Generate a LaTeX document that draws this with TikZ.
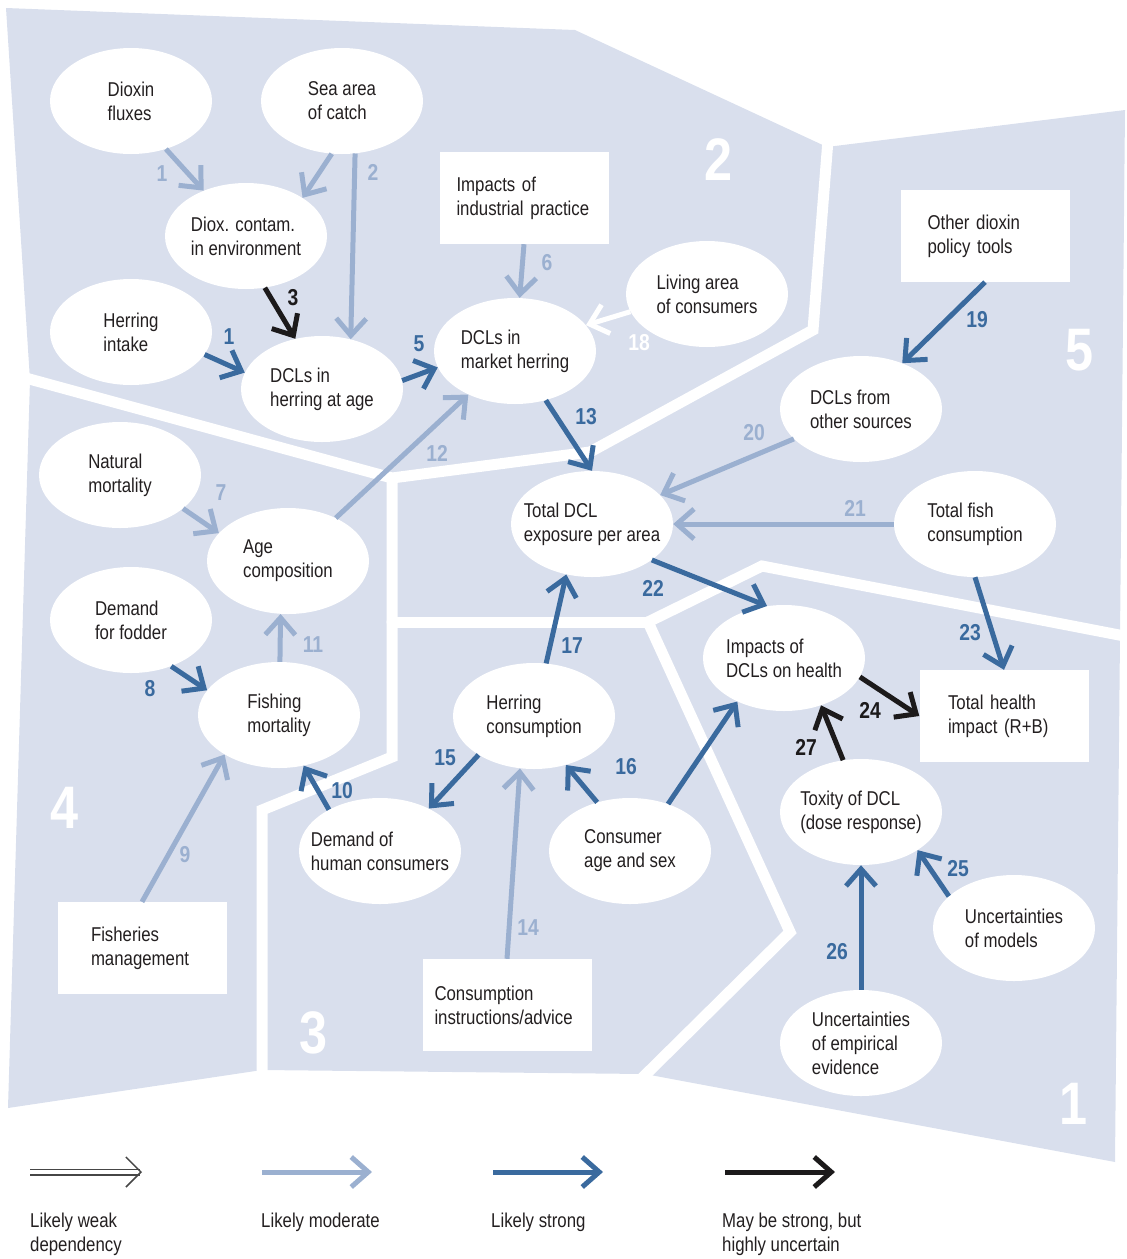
\documentclass[tikz,border=0pt]{standalone}
\usepackage{fontspec}
\setmainfont{Liberation Sans}[FakeStretch=0.84]
\usetikzlibrary{shapes.geometric,arrows.meta}

\definecolor{zone}{RGB}{217,223,237}
\definecolor{modc}{RGB}{155,176,208}
\definecolor{strc}{RGB}{58,106,158}
\definecolor{uncc}{RGB}{28,26,27}
\definecolor{txt}{RGB}{35,31,32}
\definecolor{weakedge}{RGB}{70,70,70}

\tikzset{
  txtfont/.style={font=\fontsize{20}{24}\selectfont, text=txt},
  ell/.style={ellipse, fill=white, minimum width=162pt, minimum height=106pt,
    inner xsep=-12pt, inner ysep=0pt, align=left, txtfont},
  box/.style={rectangle, fill=white, minimum width=169pt, minimum height=92pt,
    inner sep=0pt, align=left, txtfont},
  link/.style={line width=5pt, -{Straight Barb[length=17pt,width=30pt]}},
  mod/.style={link, draw=modc},
  str/.style={link, draw=strc},
  unc/.style={link, draw=uncc},
  weak/.style={link, draw=white},
  sep/.style={draw=white, line width=11pt, line cap=round},
  num/.style={font=\fontsize{23}{23}\selectfont\bfseries, inner sep=0pt},
  zonenum/.style={font=\fontsize{60}{60}\selectfont\bfseries, text=white, inner sep=0pt},
  legtext/.style={txtfont, align=left, inner sep=0pt, anchor=north west},
}

\begin{document}
\begin{tikzpicture}[x=1pt,y=-1pt]
\useasboundingbox (0,0) rectangle (1127,1259);

% shaded background of the five zones
\fill[zone] (6,8) -- (575,30) -- (827,147) -- (1125,110) -- (1115,1162)
  -- (645,1074) -- (262,1070) -- (8,1108) -- (30,380) -- cycle;

% white borders between the zones
\draw[sep] (0,371) -- (392,478) -- (590,452) -- (813,330) -- (828,140) -- (830,90);
\draw[sep] (392,478) -- (392,757) -- (262,810) -- (262,1095);
\draw[sep] (392,622) -- (648,622);
\draw[sep] (648,622) -- (762,566) -- (1145,640);
\draw[sep] (648,622) -- (790,932) -- (630,1090);

% zone numbers
\node[zonenum] (z1) at (1074,1104) {1};
\node[zonenum] (z2) at (719,160) {2};
\node[zonenum] (z3) at (314,1033) {3};
\node[zonenum] (z4) at (65,808) {4};
\node[zonenum] (z5) at (1080,350) {5};

% zone 2
\node[ell] (df) at (131,101) {Dioxin\\fluxes};
\node[ell] (sa) at (342,101) {Sea area\\of catch};
\node[ell] (dc) at (246,236) {Diox. contam.\\in environment};
\node[ell] (hi) at (131,332) {Herring\\intake};
\node[ell] (dh) at (322,389) {DCLs in\\herring at age};
\node[box, text width=135pt] (ip) at (524,198) {Impacts of\\industrial practice};
\node[ell] (la) at (707,294) {Living area\\of consumers};
\node[ell] (mh) at (515,351) {DCLs in\\market herring};

% zone 5
\node[box, text width=115pt] (od) at (985,236) {Other dioxin\\policy tools};
\node[ell] (os) at (861,409) {DCLs from\\other sources};
\node[ell] (tf) at (975,524) {Total fish\\consumption};
\node[ell] (td) at (592,524) {Total DCL\\exposure per area};

% zone 1
\node[ell] (ih) at (784,658) {Impacts of\\DCLs on health};
\node[box, text width=112pt] (th) at (1004,716) {Total health\\impact (R+B)};
\node[ell] (tx) at (861,812) {Toxity of DCL\\(dose response)};
\node[ell] (um) at (1014,928) {Uncertainties\\of models};
\node[ell] (ue) at (861,1043) {Uncertainties\\of empirical\\evidence};

% zone 3
\node[ell] (hc) at (534,716) {Herring\\consumption};
\node[ell] (dm) at (380,851) {Demand of\\human consumers};
\node[ell] (ca) at (630,851) {Consumer\\age and sex};
\node[box, text width=145pt] (ci) at (507,1005) {Consumption\\instructions/advice};

% zone 4
\node[ell] (nm) at (120,475) {Natural\\mortality};
\node[ell] (ac) at (288,561) {Age\\composition};
\node[ell] (dd) at (131,620) {Demand\\for fodder};
\node[ell] (fm) at (279,715) {Fishing\\mortality};
\node[box, text width=102pt] (fg) at (142,948) {Fisheries\\management};

% dependencies
\draw[mod] (df.-54) -- (dc.133);
\draw[mod] (sa.259) -- (dc.34);
\draw[mod] (sa.-76) -- (dh.60);
\draw[unc] (dc.-70) -- (dh.118);
\draw[str] (hi.-17) -- (dh.168);
\draw[str] (dh.6) -- (mh.192);
\draw[mod] (ip.south) -- (mh.85);
\draw[weak] (la.193) -- (mh.20);
\draw[mod] (ac.42) -- (mh.223);
\draw[str] (mh.-58) -- (td.90);
\draw[str] (od.south) -- (os.48);
\draw[mod] (os.204) -- (td.23);
\draw[mod] (tf.180) -- (td.0);
\draw[str] (td.-31) -- (ih.108);
\draw[str] (tf.-90) -- (th.north);
\draw[unc] (ih.-14) -- (th.west);
\draw[unc] (tx.109) -- (ih.-52);
\draw[str] (um.154) -- (tx.-34);
\draw[str] (ue.90) -- (tx.-90);
\draw[str] (hc.77) -- (td.243);
\draw[str] (hc.215) -- (dm.41);
\draw[str] (ca.124) -- (hc.-57);
\draw[str] (ca.51) -- (ih.223);
\draw[mod] (ci.north) -- (hc.255);
\draw[str] (dm.141) -- (fm.-64);
\draw[mod] (fg.north) -- (fm.216);
\draw[str] (dd.-49) -- (fm.161);
\draw[mod] (fm.89) -- (ac.262);
\draw[mod] (nm.-28) -- (ac.158);

% dependency numbers
\node[num, text=modc] (l1a) at (162,174) {1};
\node[num, text=modc] (l2) at (373,172) {2};
\node[num, text=uncc] (l3) at (293,298) {3};
\node[num, text=strc] (l1b) at (229,337) {1};
\node[num, text=strc] (l5) at (419,344) {5};
\node[num, text=modc] (l6) at (547,263) {6};
\node[num, text=white] (l18) at (639,343) {18};
\node[num, text=modc] (l12) at (437,453) {12};
\node[num, text=strc] (l13) at (586,417) {13};
\node[num, text=strc] (l19) at (977,320) {19};
\node[num, text=modc] (l20) at (754,433) {20};
\node[num, text=modc] (l21) at (855,508) {21};
\node[num, text=strc] (l22) at (653,588) {22};
\node[num, text=strc] (l23) at (970,633) {23};
\node[num, text=uncc] (l24) at (870,710) {24};
\node[num, text=uncc] (l27) at (806,747) {27};
\node[num, text=strc] (l25) at (958,869) {25};
\node[num, text=strc] (l26) at (837,952) {26};
\node[num, text=strc] (l17) at (572,646) {17};
\node[num, text=strc] (l15) at (445,758) {15};
\node[num, text=strc] (l16) at (626,767) {16};
\node[num, text=modc] (l14) at (528,928) {14};
\node[num, text=strc] (l10) at (342,791) {10};
\node[num, text=modc] (l9) at (185,855) {9};
\node[num, text=strc] (l8) at (150,689) {8};
\node[num, text=modc] (l11) at (313,645) {11};
\node[num, text=modc] (l7) at (221,493) {7};

% legend
\coordinate (wk1) at (30,1172);  \coordinate (wk2) at (142,1172);
\coordinate (md1) at (262,1172); \coordinate (md2) at (372,1172);
\coordinate (sg1) at (493,1172); \coordinate (sg2) at (603,1172);
\coordinate (un1) at (725,1172); \coordinate (un2) at (835,1172);
\draw[line width=1.5pt, draw=weakedge, double=white, double distance=4pt,
  -{Straight Barb[length=15pt,width=30pt]}] (wk1) -- (wk2);
\draw[mod] (md1) -- (md2);
\draw[str] (sg1) -- (sg2);
\draw[unc] (un1) -- (un2);
\node[legtext] (lgw) at (30,1213) {Likely weak\\dependency};
\node[legtext] (lgm) at (261,1213) {Likely moderate};
\node[legtext] (lgs) at (491,1213) {Likely strong};
\node[legtext] (lgu) at (722,1213) {May be strong, but\\highly uncertain};
\end{tikzpicture}
\end{document}
